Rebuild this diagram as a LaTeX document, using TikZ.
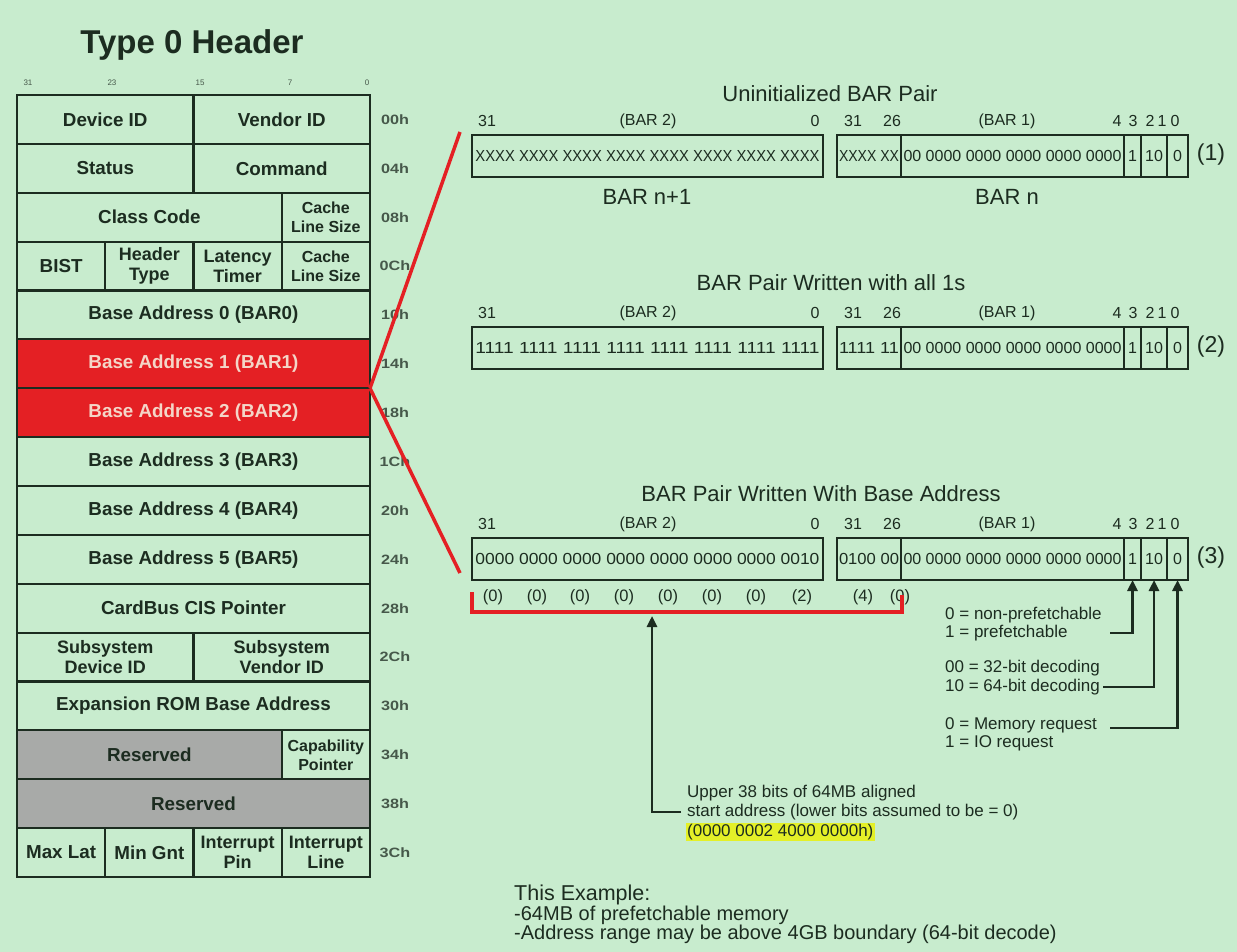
\documentclass[tikz,border=0pt]{standalone}
\usepackage{fontspec}
\usepackage{graphicx}
\setmainfont{Liberation Sans}
\newfontfamily\wide{Liberation Sans}[FakeStretch=1.2]
\usetikzlibrary{arrows.meta}
\definecolor{bg}{RGB}{200,236,206}
\definecolor{ink}{RGB}{28,44,32}
\definecolor{barred}{RGB}{228,32,36}
\definecolor{resgray}{RGB}{168,170,168}
\definecolor{offc}{RGB}{70,88,74}
\definecolor{pinkt}{RGB}{244,214,200}
\definecolor{hl}{RGB}{228,240,40}
\newcommand\fs[2]{\fontsize{#1}{#2}\selectfont}
\newcommand\cellat[6]{\node[cell,#5,minimum width={(#3-#2)*1pt},minimum height=48.875pt] (#1) at ({(#2+#3)/2},{95+(#4+0.5)*48.875}) {#6};}
\newcommand\offat[3]{\node[offl] (#1) at (395,{95+(#2+0.5)*48.875}) {#3};}
\newcommand\barpair[5]{%
 \node[fld,minimum width=351pt] (L#1) at (647.5,{#2+21}) {\resizebox{344pt}{\height}{#3}};
 \node[fld,minimum width=64pt] (A#1) at (869,{#2+21}) {\resizebox{60pt}{\height}{#4}};
 \node[fld,minimum width=223pt] (B#1) at (1012.5,{#2+21}) {\resizebox{218pt}{\height}{00 0000 0000 0000 0000 0000}};
 \node[fld,minimum width=17pt] (C#1) at (1132.5,{#2+21}) {1};
 \node[fld,minimum width=26pt] (D#1) at (1154,{#2+21}) {10};
 \node[fld,minimum width=21pt] (E#1) at (1177.5,{#2+21}) {0};
 \node[bitlab] (la#1) at (487,{#2-14}) {31};
 \node[bitlab] (lb#1) at (648,{#2-14}) {(BAR 2)};
 \node[bitlab] (lc#1) at (815,{#2-14}) {0};
 \node[bitlab] (ld#1) at (853,{#2-14}) {31};
 \node[bitlab] (le#1) at (892,{#2-14}) {26};
 \node[bitlab] (lf#1) at (1007,{#2-14}) {(BAR 1)};
 \node[bitlab] (lg#1) at (1117,{#2-14}) {4};
 \node[bitlab] (lh#1) at (1133,{#2-14}) {3};
 \node[bitlab] (li#1) at (1150,{#2-14}) {2};
 \node[bitlab] (lj#1) at (1162,{#2-14}) {1};
 \node[bitlab] (lk#1) at (1175,{#2-14}) {0};
 \node[tag] (tag#1) at (1211,{#2+20}) {#5};
}
\tikzset{
 cell/.style={draw=ink,line width=2.2pt,fill=bg,inner sep=0pt,outer sep=0pt,align=center,text=ink,font=\bfseries\fs{18.8}{20}},
 two/.style={font=\bfseries\fs{18}{20}},
 twos/.style={font=\bfseries\fs{16}{19}},
 hot/.style={fill=barred,text=pinkt},
 res/.style={fill=resgray},
 offl/.style={text=offc,font=\wide\bfseries\fs{13.5}{14},inner sep=0pt},
 toplab/.style={text=offc,font=\fs{8}{8},inner sep=0pt},
 fld/.style={draw=ink,line width=2.2pt,inner sep=0pt,outer sep=0pt,minimum height=42pt,text=ink,font=\fs{16}{16}},
 bitlab/.style={text=ink,font=\fs{16}{16},inner sep=0pt},
 ttl/.style={text=ink,font=\fs{22}{24},inner sep=0pt},
 tag/.style={text=ink,font=\fs{23}{24},inner sep=0pt},
 sub/.style={text=ink,font=\fs{16.5}{17},inner sep=0pt},
 note/.style={text=ink,font=\fs{17}{18},inner sep=0pt,anchor=west},
 redl/.style={draw=barred,line width=3.5pt},
 arr/.style={draw=ink,line width=2.6pt,-{Triangle[length=11pt,width=10pt]}},
}
\begin{document}
\begin{tikzpicture}[x=1pt,y=-1pt]
\fill[bg] (0,0) rectangle (1237,952);
\useasboundingbox (0,0) rectangle (1237,952);
% title
\node[text=ink,font=\bfseries\fs{33}{35},inner sep=0pt] (title) at (192,45) {Type 0 Header};
% bit numbers
\node[toplab] (t31) at (28,83) {31};
\node[toplab] (t23) at (112,83) {23};
\node[toplab] (t15) at (200,83) {15};
\node[toplab] (t7) at (290,83) {7};
\node[toplab] (t0) at (367,83) {0};
% table
\cellat{dev}{17}{193.5}{0}{}{Device ID}
\cellat{ven}{193.5}{370}{0}{}{Vendor ID}
\cellat{sta}{17}{193.5}{1}{}{Status}
\cellat{cmd}{193.5}{370}{1}{}{Command}
\cellat{cls}{17}{281.75}{2}{}{Class Code}
\cellat{cls2}{281.75}{370}{2}{twos}{Cache\\Line Size}
\cellat{bist}{17}{105.25}{3}{}{BIST}
\cellat{hdr}{105.25}{193.5}{3}{two}{Header\\Type}
\cellat{lat}{193.5}{281.75}{3}{two}{Latency\\Timer}
\cellat{cls3}{281.75}{370}{3}{twos}{Cache\\Line Size}
\cellat{bar0}{17}{370}{4}{}{Base Address 0 (BAR0)}
\cellat{bar1}{17}{370}{5}{hot}{Base Address 1 (BAR1)}
\cellat{bar2}{17}{370}{6}{hot}{Base Address 2 (BAR2)}
\cellat{bar3}{17}{370}{7}{}{Base Address 3 (BAR3)}
\cellat{bar4}{17}{370}{8}{}{Base Address 4 (BAR4)}
\cellat{bar5}{17}{370}{9}{}{Base Address 5 (BAR5)}
\cellat{cis}{17}{370}{10}{}{CardBus CIS Pointer}
\cellat{ssd}{17}{193.5}{11}{two}{Subsystem\\Device ID}
\cellat{ssv}{193.5}{370}{11}{two}{Subsystem\\Vendor ID}
\cellat{rom}{17}{370}{12}{}{Expansion ROM Base Address}
\cellat{rs1}{17}{281.75}{13}{res}{Reserved}
\cellat{cap}{281.75}{370}{13}{twos}{Capability\\Pointer}
\cellat{rs2}{17}{370}{14}{res}{Reserved}
\cellat{mxl}{17}{105.25}{15}{}{Max Lat}
\cellat{mng}{105.25}{193.5}{15}{}{Min Gnt}
\cellat{ipn}{193.5}{281.75}{15}{two}{Interrupt\\Pin}
\cellat{iln}{281.75}{370}{15}{two}{Interrupt\\Line}
% offsets
\offat{o0}{0}{00h}\offat{o1}{1}{04h}\offat{o2}{2}{08h}\offat{o3}{3}{0Ch}
\offat{o4}{4}{10h}\offat{o5}{5}{14h}\offat{o6}{6}{18h}\offat{o7}{7}{1Ch}
\offat{o8}{8}{20h}\offat{o9}{9}{24h}\offat{o10}{10}{28h}\offat{o11}{11}{2Ch}
\offat{o12}{12}{30h}\offat{o13}{13}{34h}\offat{o14}{14}{38h}\offat{o15}{15}{3Ch}
% BAR pairs
\node[ttl] (h1) at (830,94) {Uninitialized BAR Pair};
\barpair{1}{135}{XXXX XXXX XXXX XXXX XXXX XXXX XXXX XXXX}{XXXX XX}{(1)}
\node[ttl] (n1) at (647,197) {BAR n+1};
\node[ttl] (n0) at (1007,197) {BAR n};
\node[ttl] (h2) at (831,283) {BAR Pair Written with all 1s};
\barpair{2}{327}{1111 1111 1111 1111 1111 1111 1111 1111}{1111 11}{(2)}
\node[ttl] (h3) at (821,494) {BAR Pair Written With Base Address};
\barpair{3}{538}{0000 0000 0000 0000 0000 0000 0000 0010}{0100 00}{(3)}
% nibble values
\node[sub] (v1) at (493,597) {(0)};
\node[sub] (v2) at (537,597) {(0)};
\node[sub] (v3) at (580,597) {(0)};
\node[sub] (v4) at (624,597) {(0)};
\node[sub] (v5) at (668,597) {(0)};
\node[sub] (v6) at (712,597) {(0)};
\node[sub] (v7) at (756,597) {(0)};
\node[sub] (v8) at (802,597) {(2)};
\node[sub] (v9) at (863,597) {(4)};
\node[sub] (v10) at (900,597) {(0)};
% red connectors
\coordinate (rt) at (460,132);
\coordinate (rb) at (460,573);
\draw[redl] (bar1.south east) -- (rt);
\draw[redl] (bar1.south east) -- (rb);
\coordinate (rb1) at (472,592);
\coordinate (rb2) at (472,612);
\coordinate (rb3) at (902,612);
\coordinate (rb4) at (902,595);
\draw[redl,line width=4pt] (rb1) -- (rb2) -- (rb3) -- (rb4);
% upper bits note
\node[note] (u1) at (687,793) {Upper 38 bits of 64MB aligned};
\node[note] (u2) at (687,812) {start address (lower bits assumed to be = 0)};
\node[note,fill=hl,inner sep=1.5pt] (u3) at (685.5,832) {(0000 0002 4000 0000h)};
\coordinate (k2) at (681,812);
\coordinate (k1) at (652,812);
\coordinate (bk) at (652,616);
\draw[arr] (k2) -- (k1) -- (bk);
% field notes
\node[note] (p0) at (945,615) {0 = non-prefetchable};
\node[note] (p1) at (945,633) {1 = prefetchable};
\node[note] (d0) at (945,668) {00 = 32-bit decoding};
\node[note] (d1) at (945,687) {10 = 64-bit decoding};
\node[note] (m0) at (945,725) {0 = Memory request};
\node[note] (m1) at (945,743) {1 = IO request};
\coordinate (a3) at (1110,633);
\coordinate (a2) at (1103,687);
\coordinate (a0) at (1110,728);
\draw[arr] (a3) -| (C3.south);
\draw[arr] (a2) -| (D3.south);
\draw[arr] (a0) -| (E3.south);
% example
\node[text=ink,font=\fs{20}{19.5},inner sep=0pt,align=left,anchor=north west] (ex) at (514,885) {{\fs{21.5}{19.5}This Example:}\\-64MB of prefetchable memory\\-Address range may be above 4GB boundary (64-bit decode)};
\end{tikzpicture}
\end{document}
